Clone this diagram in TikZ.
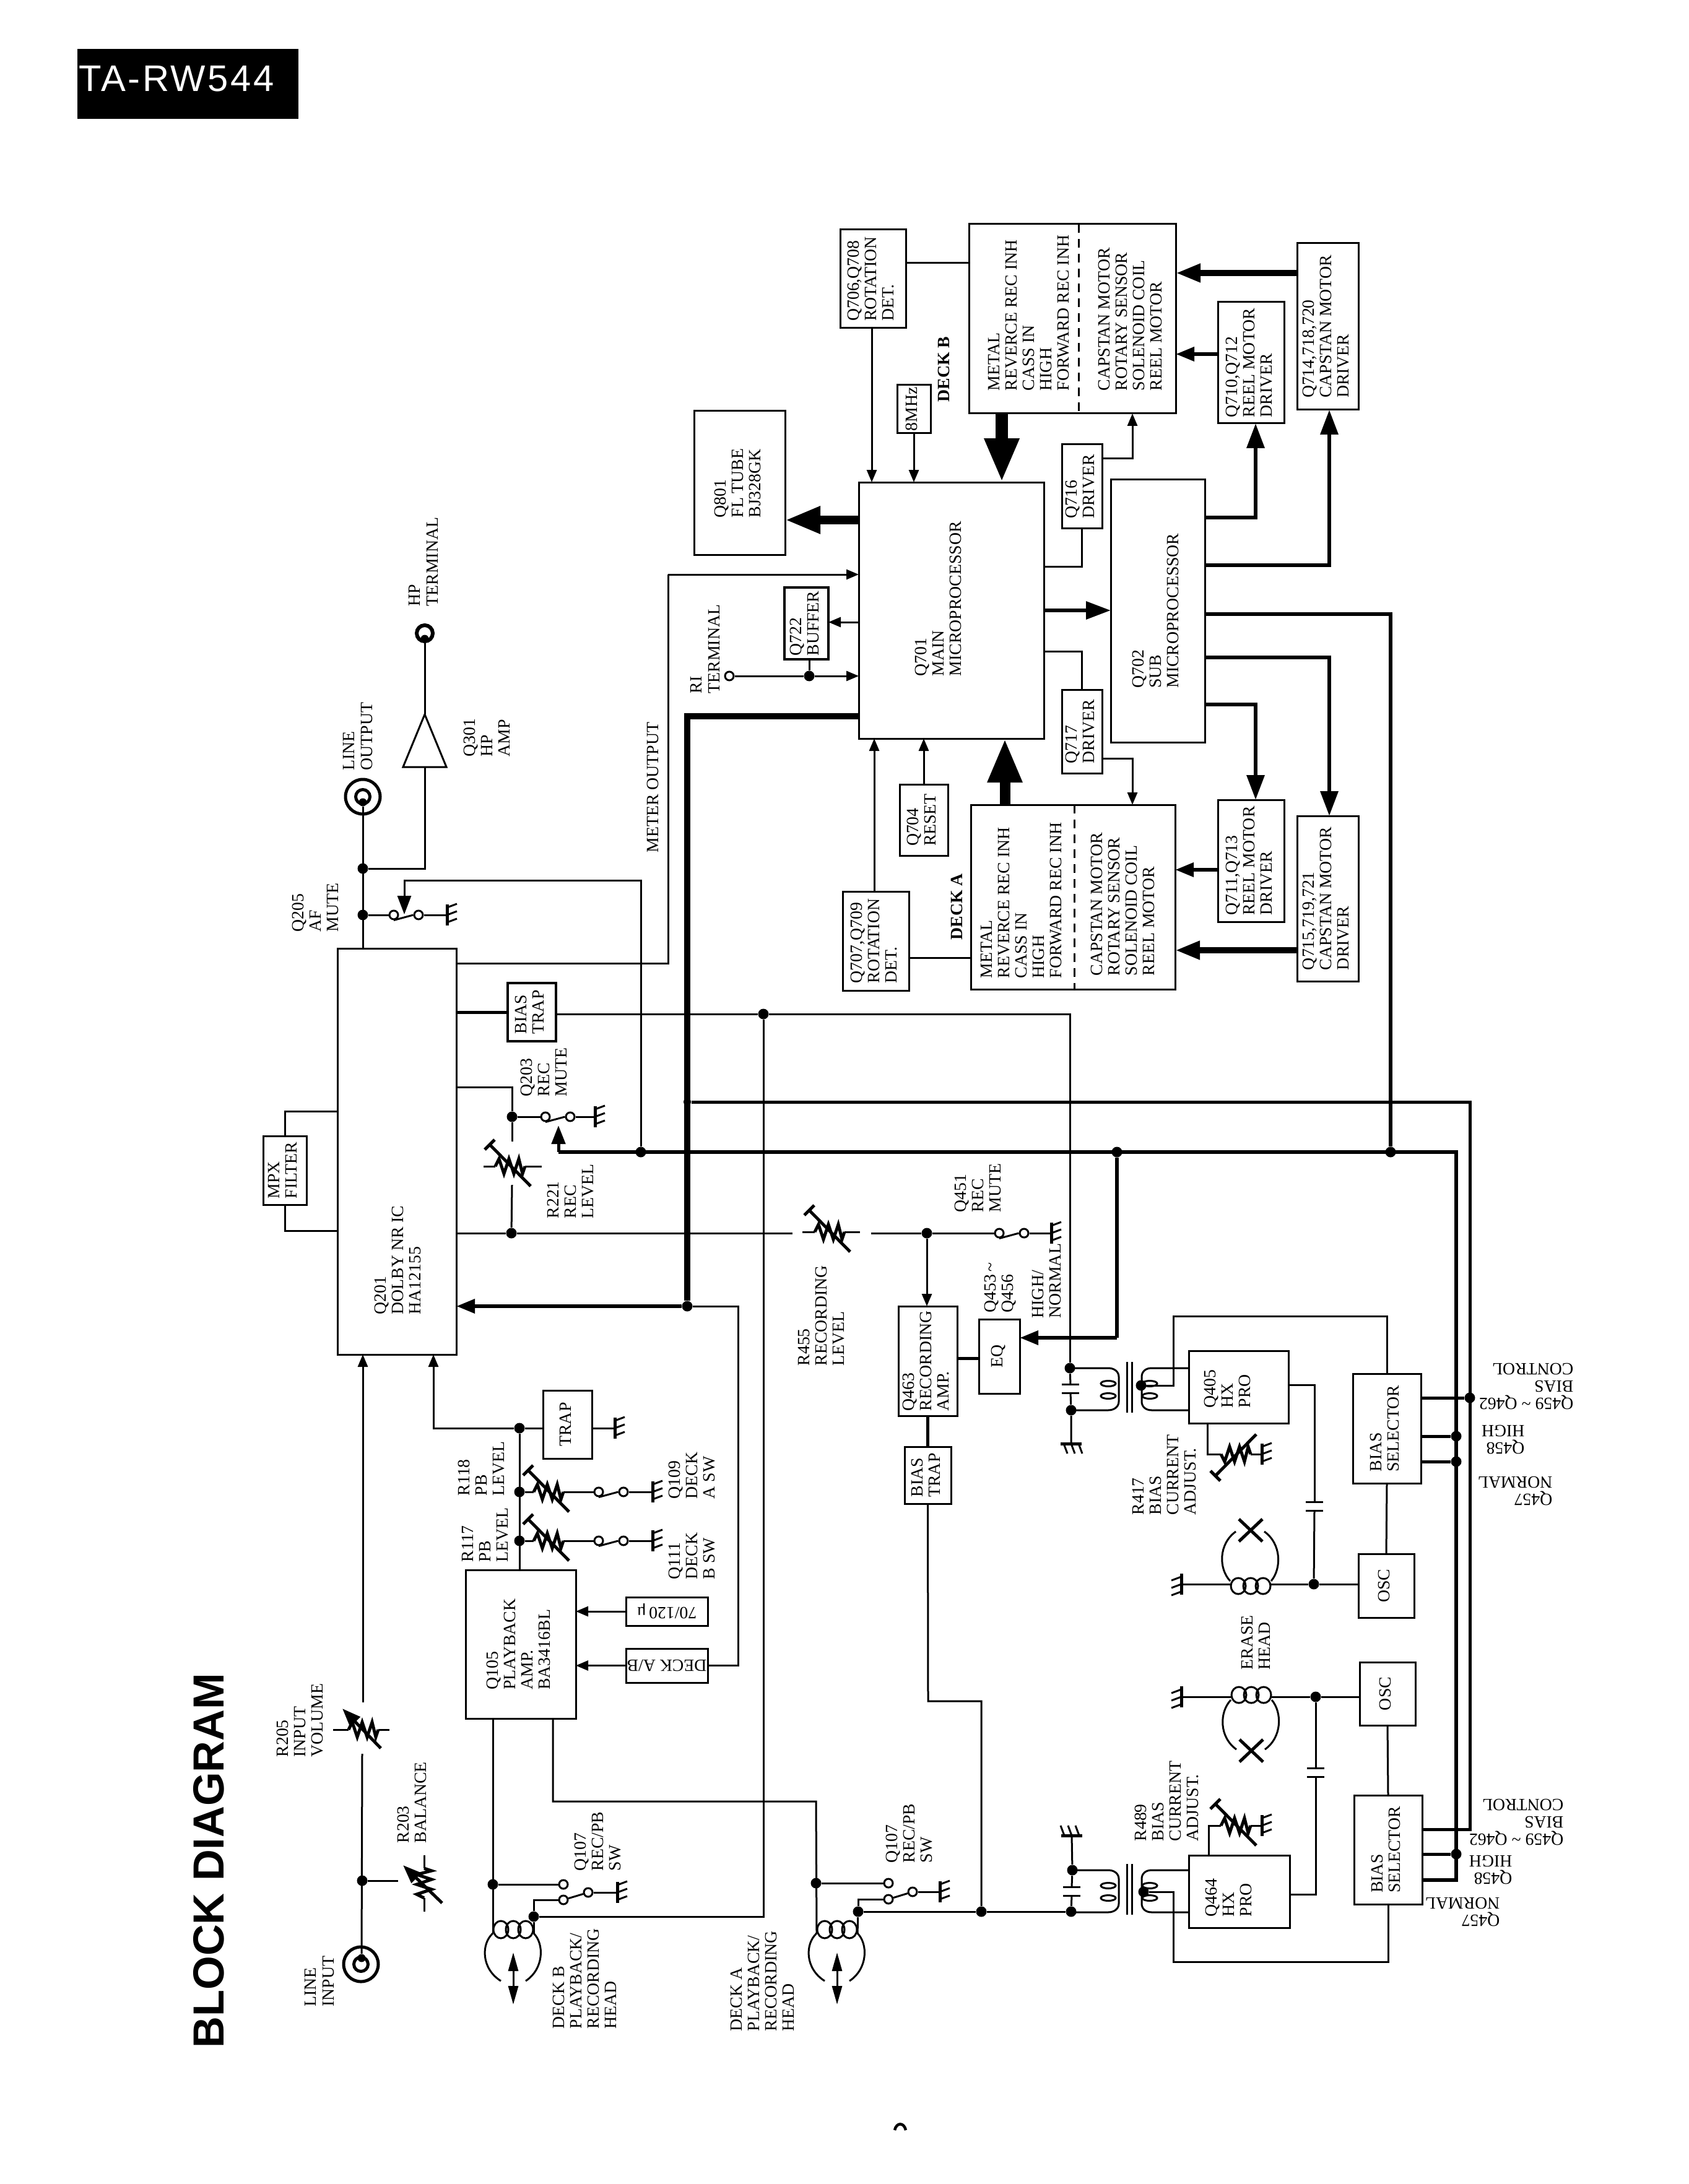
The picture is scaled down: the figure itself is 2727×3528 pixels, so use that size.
\documentclass[tikz,border=0pt]{standalone}
\usepackage{fontspec}
\usepackage{graphicx}
\setmainfont{Liberation Serif}
\newfontfamily\headfont{Liberation Sans}
\newfontfamily\modelfont[LetterSpace=6]{Liberation Sans}
\usetikzlibrary{arrows.meta}

\newcommand{\schfont}{\fontsize{7.9pt}{8pt}\selectfont}
\newcommand{\vtext}[1]{\rotatebox{90}{\begin{tabular}{@{}l@{}}#1\end{tabular}}}
\newcommand{\zigpath}{(-24,0) -- (-18,-12) -- (-10,12) -- (-2,-12) -- (6,12) -- (14,-12) -- (20,12) -- (24,0)}

\tikzset{
  wire/.style={line width=0.3mm},
  wirem/.style={line width=0.5mm},
  wiret/.style={line width=0.65mm},
  wireh/.style={line width=1mm},
  aS/.style={-{Triangle[length=2mm,width=1.6mm]}},
  aT/.style={-{Triangle[length=3mm,width=2.2mm]}},
  aM/.style={-{Triangle[length=4mm,width=2.8mm]}},
  aL/.style={-{Triangle[length=5.7mm,width=4.1mm]}},
  aH/.style={-{Triangle[length=7.1mm,width=5.2mm]}},
  blk/.style={draw,line width=0.3mm,inner sep=0pt,outer sep=0pt,font=\schfont},
  labbase/.style={inner sep=0pt,anchor=north west,align=left,font=\schfont},
  lab/.style={labbase,rotate=90},
  labu/.style={labbase,rotate=180},
  dot/.style={circle,fill=black,inner sep=0pt,minimum size=1.7mm},
  swc/.style={circle,draw,fill=white,line width=0.3mm,inner sep=0pt,minimum size=1.4mm},
  jack/.style={circle,draw,inner sep=0pt,line width=0.5mm},
  gnd/.pic={
    \coordinate (-c) at (0,0);
    \draw[wirem] (0,-17) -- (0,17);
    \draw[wire] (0,-12) -- (16,-18);
    \draw[wire] (0,0) -- (16,-6);
    \draw[wire] (0,12) -- (16,6);
  },
  swt/.pic={
    \node[swc] (-a) at (0,0) {};
    \node[swc] (-b) at (40,0) {};
    \draw[wire] (-a.south) -- (-b.west);
  },
  capv/.pic={
    \coordinate (-t) at (0,-7);
    \coordinate (-b) at (0,7);
    \draw[wire] (-14,-7) -- (14,-7);
    \draw[wire] (-14,7) -- (14,7);
  },
  zigonly/.pic={
    \coordinate (-l) at (-24,0);
    \coordinate (-r) at (24,0);
    \draw[wirem] \zigpath;
  },
  vrt/.pic={
    \coordinate (-l) at (-24,0);
    \coordinate (-r) at (24,0);
    \draw[wirem] \zigpath;
    \draw[wirem] (-33,-35) -- (33,32);
    \draw[wirem] (-41,-27) -- (-25,-43);
  },
  vra/.pic={
    \coordinate (-l) at (-24,0);
    \coordinate (-r) at (24,0);
    \draw[wirem] \zigpath;
    \draw[wirem,aT] (28,30) -- (-34,-34);
  },
  head/.pic={
    \coordinate (-l) at (-33,6);
    \coordinate (-r) at (33,6);
    \draw[wire] (-20,0) ellipse [x radius=1.2mm,y radius=1.4mm];
    \draw[wire] (0,0) ellipse [x radius=1.2mm,y radius=1.4mm];
    \draw[wire] (20,0) ellipse [x radius=1.2mm,y radius=1.4mm];
    \draw[wire] (-33,6) .. controls (-52,23) and (-52,63) .. (-20,83);
    \draw[wire] (33,6) .. controls (50,23) and (50,63) .. (20,83);
    \draw[wire,{Triangle[length=3mm,width=1.6mm]}-{Triangle[length=3mm,width=1.6mm]}] (0,37) -- (0,121);
  },
  erase/.pic={
    \coordinate (-l) at (-33,0);
    \coordinate (-r) at (33,0);
    \draw[wire] (-20,-3) ellipse [x radius=1.2mm,y radius=1.3mm];
    \draw[wire] (0,-3) ellipse [x radius=1.2mm,y radius=1.3mm];
    \draw[wire] (20,-3) ellipse [x radius=1.2mm,y radius=1.3mm];
    \draw[wire] (-33,5) .. controls (-52,25) and (-52,65) .. (-24,85);
    \draw[wire] (33,5) .. controls (50,25) and (50,65) .. (22,85);
    \draw[wirem] (-19,69) -- (19,105);
    \draw[wirem] (19,69) -- (-19,105);
  },
  xfmr/.pic={
    \coordinate (-a) at (192,0);
    \coordinate (-b) at (192,68);
    \draw[wire] (0,0) -- (62,0) .. controls (72,0) and (79,6) .. (79,14) -- (79,54) .. controls (79,62) and (72,68) .. (62,68) -- (0,68);
    \draw[wire] (62,25) ellipse [x radius=1.2mm,y radius=0.45mm];
    \draw[wire] (62,45) ellipse [x radius=1.2mm,y radius=0.45mm];
    \draw[wire] (92,-10) -- (92,72);
    \draw[wire] (100,-10) -- (100,72);
    \draw[wire] (-a) -- (132,0) .. controls (122,0) and (116,6) .. (116,14) -- (116,54) .. controls (116,62) and (122,68) .. (132,68) -- (-b);
    \draw[wire] (129,25) ellipse [x radius=1.2mm,y radius=0.45mm];
    \draw[wire] (129,45) ellipse [x radius=1.2mm,y radius=0.45mm];
  }
}

\begin{document}
\begin{tikzpicture}[x=0.1mm,y=-0.1mm]
\useasboundingbox (0,0) rectangle (2727,3528);

% Header
\node[fill=black,inner sep=0pt,minimum width=35.7mm,minimum height=11.3mm] (model) at (303.5,135.5) {};
\node[text=white,inner sep=0pt] (modeltxt) at (285,127) {\modelfont\fontsize{17pt}{17pt}\selectfont TA-RW544};
\node[rotate=90,anchor=north west,inner sep=0pt] (title) at (312,3309) {\headfont\bfseries\fontsize{20pt}{20pt}\selectfont BLOCK DIAGRAM};

% Microprocessor blocks
\node[blk,minimum width=14.7mm,minimum height=23.3mm] (q801) at (1194.5,780.5) {\vtext{Q801\\FL TUBE\\BJ328GK}};
\node[blk,minimum width=29.9mm,minimum height=41.4mm] (q701) at (1536.5,986) {};
\node[blk,minimum width=15.2mm,minimum height=42.5mm] (q702) at (1870,986.5) {\vtext{Q702\\SUB\\MICROPROCESSOR}};
\node[blk,minimum width=10.6mm,minimum height=15.9mm] (q706) at (1410,450.5) {\vtext{Q706,Q708\\ROTATION\\DET.}};
\node[blk,minimum width=33.4mm,minimum height=30.6mm] (deckb) at (1732,515) {};
\node[blk,minimum width=9.9mm,minimum height=26.9mm] (q714) at (2144.5,527.5) {\vtext{Q714,718,720\\CAPSTAN MOTOR\\DRIVER}};
\node[blk,minimum width=10.7mm,minimum height=19.6mm] (q710) at (2020.5,586) {\vtext{Q710,Q712\\REEL MOTOR\\DRIVER}};
\node[blk,minimum width=5.4mm,minimum height=7.8mm] (mhz) at (1476,661) {\vtext{8MHz}};
\node[blk,minimum width=6.5mm,minimum height=13.6mm] (q716) at (1747.5,786) {\vtext{Q716\\DRIVER}};
\node[blk,minimum width=6.5mm,minimum height=13.5mm] (q717) at (1747.5,1181.5) {\vtext{Q717\\DRIVER}};
\node[blk,line width=0.45mm,minimum width=7.1mm,minimum height=11.6mm] (q722) at (1302.5,1007) {\vtext{Q722\\BUFFER}};
\node[blk,minimum width=7.8mm,minimum height=11.5mm] (q704) at (1492,1324.5) {\vtext{Q704\\RESET}};
\node[blk,minimum width=10.7mm,minimum height=16mm] (q707) at (1414.5,1520) {\vtext{Q707,Q709\\ROTATION\\DET.}};
\node[blk,minimum width=33mm,minimum height=29.8mm] (decka) at (1733,1449) {};
\node[blk,minimum width=10.7mm,minimum height=19.7mm] (q711) at (2020.5,1390.5) {\vtext{Q711,Q713\\REEL MOTOR\\DRIVER}};
\node[blk,minimum width=9.9mm,minimum height=26.7mm] (q715) at (2144.5,1451.5) {\vtext{Q715,719,721\\CAPSTAN MOTOR\\DRIVER}};

% Audio blocks
\node[blk,minimum width=19.2mm,minimum height=65.6mm] (q201) at (641,1860) {};
\node[blk,minimum width=7mm,minimum height=11.1mm] (mpx) at (460,1890.5) {\vtext{MPX\\FILTER}};
\node[blk,line width=0.45mm,minimum width=7.8mm,minimum height=9.4mm] (btrapa) at (859,1635) {\vtext{BIAS\\TRAP}};
\node[blk,minimum width=7.9mm,minimum height=11mm] (trap) at (916.5,2301) {\vtext{TRAP}};
\node[blk,minimum width=17.8mm,minimum height=24mm] (q105) at (841,2656) {\vtext{Q105\\PLAYBACK\\AMP.\\BA3416BL}};
\node[blk,minimum width=13.2mm,minimum height=4.6mm] (eqsw) at (1077,2603) {\rotatebox{180}{70/120\,μ}};
\node[blk,minimum width=13.2mm,minimum height=5.5mm] (deckab) at (1077,2690.5) {\rotatebox{180}{DECK A/B}};
\node[blk,minimum width=9.5mm,minimum height=17.7mm] (q463) at (1498.5,2198.5) {\vtext{Q463\\RECORDING\\AMP.}};
\node[blk,minimum width=6.6mm,minimum height=12mm] (eq) at (1614,2191) {\vtext{EQ}};
\node[blk,minimum width=7.5mm,minimum height=9.2mm] (btrapb) at (1498.5,2383) {\vtext{BIAS\\TRAP}};
\node[blk,minimum width=16.1mm,minimum height=11.7mm] (q405) at (2000.5,2240.5) {};
\node[blk,minimum width=11mm,minimum height=17.7mm] (sela) at (2240,2307.5) {\vtext{BIAS\\SELECTOR}};
\node[blk,minimum width=9mm,minimum height=10.3mm] (osca) at (2239,2561.5) {\vtext{OSC}};
\node[blk,minimum width=9mm,minimum height=10.2mm] (oscb) at (2241,2736) {\vtext{OSC}};
\node[blk,minimum width=11mm,minimum height=17.6mm] (selb) at (2242,2988) {\vtext{BIAS\\SELECTOR}};
\node[blk,minimum width=16.3mm,minimum height=11.7mm] (q464) at (2001.5,3055.5) {};

% Text inside blocks
\node[lab] (tq701) at (1477,1093) {Q701\\MAIN\\MICROPROCESSOR};
\node[lab] (tdeckbl) at (1595,632) {METAL\\REVERCE REC INH\\CASS IN\\HIGH\\FORWARD REC INH};
\node[lab] (tdeckbr) at (1773,632) {CAPSTAN MOTOR\\ROTARY SENSOR\\SOLENOID COIL\\REEL MOTOR};
\node[lab] (tdeckal) at (1583,1581) {METAL\\REVERCE REC INH\\CASS IN\\HIGH\\FORWARD REC INH};
\node[lab] (tdeckar) at (1761,1577) {CAPSTAN MOTOR\\ROTARY SENSOR\\SOLENOID COIL\\REEL MOTOR};
\node[lab] (tq201) at (604,2124) {Q201\\DOLBY NR IC\\HA12155};
\node[lab] (tq405) at (1944,2275) {Q405\\HX\\PRO};
\node[lab] (tq464) at (1946,3097) {Q464\\HX\\PRO};

% Labels
\node[lab] (thp) at (660,980) {HP\\TERMINAL};
\node[lab] (tlo) at (554,1245) {LINE\\OUTPUT};
\node[lab] (tq301) at (748,1223) {Q301\\HP\\AMP};
\node[lab] (tmeter) at (1044,1378) {METER OUTPUT};
\node[lab] (tri) at (1115,1121) {RI\\TERMINAL};
\node[lab] (tq205) at (471,1506) {Q205\\AF\\MUTE};
\node[lab] (tdb) at (1514,650) {\bfseries DECK B};
\node[lab] (tda) at (1535,1519) {\bfseries DECK A};
\node[lab] (tr118) at (739,2417) {R118\\PB\\ LEVEL};
\node[lab] (tr117) at (745,2524) {R117\\PB\\LEVEL};
\node[lab] (tq109) at (1079,2422) {Q109\\DECK\\A SW};
\node[lab] (tq111) at (1079,2552) {Q111\\DECK\\B SW};
\node[lab] (tq203) at (840,1772) {Q203\\REC\\MUTE};
\node[lab] (tr221) at (883,1969) {R221\\REC\\LEVEL};
\node[lab] (tr455) at (1288,2207) {R455\\RECORDING\\LEVEL};
\node[lab] (tq451) at (1541,1959) {Q451\\REC\\MUTE};
\node[lab] (tq453) at (1589,2121) {Q453\,\textasciitilde\\Q456};
\node[lab] (thn) at (1666,2130) {HIGH/\\NORMAL};
\node[lab] (tr417) at (1828,2448) {R417\\BIAS\\CURRENT\\ADJUST.};
\node[lab] (terase) at (2004,2698) {ERASE\\HEAD};
\node[lab] (tr489) at (1832,2975) {R489\\BIAS\\CURRENT\\ADJUST.};
\node[lab] (tq107a) at (1430,3010) {Q107\\REC/PB\\SW};
\node[lab] (tq107b) at (927,3023) {Q107\\REC/PB\\SW};
\node[lab] (theadb) at (892,3278) {DECK B\\PLAYBACK/\\RECORDING\\HEAD};
\node[lab] (theada) at (1179,3282) {DECK A\\PLAYBACK/\\RECORDING\\HEAD};
\node[lab] (tr205) at (446,2839) {R205\\INPUT\\VOLUME};
\node[lab] (tr203) at (641,2978) {R203\\BALANCE};
\node[lab] (tli) at (492,3242) {LINE\\INPUT};
\node[labu] (tctla) at (2542,2278) {Q459 \textasciitilde{} Q462\\BIAS\\CONTROL};
\node[labu] (thia) at (2463,2350) {Q458\\HIGH};
\node[labu] (tnoa) at (2508,2433) {Q457\\NORMAL};
\node[labu] (tctlb) at (2526,2982) {Q459 \textasciitilde{} Q462\\BIAS\\CONTROL};
\node[labu] (thib) at (2443,3045) {Q458\\HIGH};
\node[labu] (tnob) at (2423,3113) {Q457\\NORMAL};

% Jacks and terminals
\node[jack,minimum size=5.6mm] (jout) at (586,1287) {};
\node[jack,minimum size=2.3mm] (jouti) at (586,1287) {};
\node[dot,minimum size=1.3mm] (joutd) at (586,1296) {};
\node[jack,minimum size=2.6mm,line width=0.6mm] (jhp) at (686,1023) {};
\node[dot,minimum size=1.3mm] (jhpd) at (686,1032) {};
\node[jack,minimum size=5.6mm] (jin) at (583,3173) {};
\node[jack,minimum size=2.3mm] (jini) at (583,3173) {};
\node[dot,minimum size=1.3mm] (jind) at (584,3163) {};
\node[swc] (ri) at (1178,1092) {};

% Junction dots
\node[dot] (dlo) at (586,1403) {};
\node[dot] (daf) at (586,1478) {};
\node[dot] (dmute) at (827,1804) {};
\node[dot] (drec) at (826,1992) {};
\node[dot] (dctl) at (1035,1861) {};
\node[dot,minimum size=1.2mm] (dhi) at (1110,1780) {};
\node[dot] (dthick) at (1110,2110) {};
\node[dot] (dbias) at (1233,1638) {};
\node[dot] (dri) at (1307,1092) {};
\node[dot] (dpb) at (839,2307) {};
\node[dot] (dra) at (839,2410) {};
\node[dot] (drb) at (839,2489) {};
\node[dot] (dq451) at (1497,1992) {};
\node[dot] (deq) at (1804,1861) {};
\node[dot] (dsub) at (2246,1861) {};
\node[dot] (din) at (585,3038) {};
\node[dot] (dhbl) at (796,3044) {};
\node[dot] (dhbr) at (862,3096) {};
\node[dot] (dhal) at (1318,3042) {};
\node[dot] (dhar) at (1386,3088) {};
\node[dot] (djoin) at (1585,3088) {};
\node[dot] (dpa) at (1728,2210) {};
\node[dot] (dpb2) at (1730,2278) {};
\node[dot] (dsa) at (1843,2238) {};
\node[dot] (dea) at (2122,2559) {};
\node[dot] (dqa) at (1732,3021) {};
\node[dot] (dqb) at (1730,3088) {};
\node[dot] (dsb) at (1847,3056) {};
\node[dot] (deb) at (2125,2741) {};
\node[dot] (dsla) at (2374,2258) {};
\node[dot] (dslb) at (2352,2320) {};
\node[dot] (dslc) at (2352,2361) {};
\node[dot] (dsld) at (2352,2995) {};

% Switches
\pic (s205) at (636,1478) {swt};
\pic (s203) at (881,1804) {swt};
\pic (s451) at (1614,1992) {swt};
\pic (s109) at (967,2410) {swt};
\pic (s111) at (967,2489) {swt};
\node[swc] (sba) at (910,3044) {};
\node[swc] (sbb) at (910,3069) {};
\node[swc] (sbc) at (950,3057) {};
\node[swc] (saa) at (1435,3042) {};
\node[swc] (sab) at (1435,3068) {};
\node[swc] (sac) at (1474,3056) {};
\draw[wire] (sbb) -- (sbc);
\draw[wire] (sab) -- (sac);

% Grounds
\pic (g205) at (722,1478) {gnd};
\pic (g203) at (961,1804) {gnd};
\pic (g451) at (1698,1992) {gnd};
\pic (gtrap) at (993,2307) {gnd};
\pic (g109) at (1054,2410) {gnd};
\pic (g111) at (1054,2489) {gnd};
\pic (gb) at (997,3057) {gnd};
\pic (ga) at (1518,3056) {gnd};
\pic[rotate=-90] (g405) at (1730,2332) {gnd};
\pic[rotate=90] (g464) at (1731,2965) {gnd};
\pic (g417) at (2038,2349) {gnd};
\pic (g489) at (2038,2949) {gnd};
\pic[rotate=180] (gea) at (1908,2559) {gnd};
\pic[rotate=180] (geb) at (1908,2741) {gnd};

% Variable resistors
\pic (r118) at (886,2410) {vrt};
\pic (r117) at (886,2489) {vrt};
\pic (r221) at (824,1884) {vrt};
\pic (r455) at (1340,1990) {vrt};
\pic[yscale=-1] (r417) at (1996,2349) {vrt};
\pic (r489) at (1996,2949) {vrt};
\pic (r205) at (587,2794) {vra};
\pic[rotate=90] (r203) at (685,3042) {zigonly};
\coordinate (r203t) at (651,3013);
\coordinate (r203e) at (714,3074);
\draw[wirem,aT] (r203e) -- (r203t);

% Heads and coils
\pic (hb) at (829,3117) {head};
\pic (ha) at (1352,3117) {head};
\pic (xa) at (1728,2210) {xfmr};
\pic (xb) at (1728,3021) {xfmr};
\pic[yscale=-1] (ea) at (2020,2559) {erase};
\pic (eb) at (2021,2741) {erase};
\pic (cxa) at (1729,2243) {capv};
\pic (cxb) at (1731,3055) {capv};
\pic (coa) at (2123,2433) {capv};
\pic (cob) at (2125,2863) {capv};

% HP amp
\coordinate (ampb) at (686,1239);
\coordinate (ampt) at (686,1154);
\draw[wire] (651,1239) -- (721,1239) -- (ampt) -- cycle;

% Output side wires
\draw[wire] (joutd) -- (q201.north -| joutd);
\draw[wire] (dlo) -| (ampb);
\draw[wire] (ampt) -- (jhpd);
\draw[wire] (daf) -- (s205-a);
\draw[wire] (s205-b) -- (g205-c);
\coordinate (ta205) at (653,1477);
\draw[wire,aT] (dctl) |- (653,1422) -- (ta205);
\draw[wire] (q201.east |- 0,1556) -- (1079,1556) -- (1079,928);
\draw[wire,aS] (1079,928) -- (q701.west |- 0,928);
\draw[wire] (q201.west |- 0,1795) -| (mpx.north);
\draw[wire] (mpx.south) |- (q201.west |- 0,1988);

% Bias trap line
\draw[wirem] (q201.east |- btrapa.east) -- (btrapa.west);
\draw[wire] (btrapa.east |- dbias) -- (dbias) -- (1728,1638) -- (dpa);
\draw[wire] (dbias) -- (1233,3096) -- (dhbr);

% Record mute and level
\draw[wire] (q201.east |- 0,1756) -| (dmute);
\draw[wire] (dmute) -- (827,1844);
\draw[wire] (827,1914) -- (drec);
\draw[wire] (r221-l) -- ++(-19,0);
\draw[wire] (r221-r) -- ++(27,0);
\draw[wire] (dmute) -- (s203-a);
\draw[wire] (s203-b) -- (g203-c);
\draw[wire] (q201.east |- drec) -- (drec) -- (1280,1992);
\draw[wire] (r455-l) -- ++(-20,0);
\draw[wire] (r455-r) -- ++(25,0);
\draw[wire] (1407,1992) -- (dq451) -- (s451-a);
\draw[wire] (s451-b) -- (g451-c);
\draw[wire,aS] (dq451) -- (dq451 |- q463.north);
\draw[wirem] (q463.east |- 0,2194) -- (eq.west |- 0,2194);
\draw[wirem] (q463.south) -- (btrapb.north);
\draw[wire] (btrapb.south) -- (1499,2748) -| (djoin);

% Control buses
\coordinate (ctll) at (902,1861);
\coordinate (ta203) at (902,1818);
\draw[wiret] (ctll) -- (2352,1861) -- (2352,3037) -- (selb.east |- 0,3037);
\draw[wirem,aT] (ctll) -- (ta203);
\draw[wirem] (dhi) -- (2374,1780) -- (2374,2955) -- (selb.east |- 0,2955);
\draw[wirem] (sela.east |- dsla) -- (dsla);
\draw[wirem] (sela.east |- dslb) -- (dslb);
\draw[wirem] (sela.east |- dslc) -- (dslc);
\draw[wirem] (selb.east |- dsld) -- (dsld);
\draw[wireh] (q701.west |- 0,1157) -- (1110,1157) -- (dthick);
\draw[wiret,aT] (dthick) -- (q201.east |- dthick);
\draw[wire] (dthick) -- (1192,2110) -- (1192,2690) -- (deckab.east |- 0,2690);
\draw[wiret] (q702.east |- 0,992) -- (2246,992) -- (dsub);
\draw[wiret] (deq) -- (1804,2161);
\draw[wiret,aT] (1804,2161) -- (eq.east |- 0,2161);

% Playback chain
\draw[wire] (dpb) -- (q105.north -| dpb);
\draw[wire] (dpb) -- (trap.west |- dpb);
\draw[wire] (trap.east |- dpb) -- (gtrap-c);
\draw[wire,aS] (dpb) -- (700,2307) -- (700,0 |- q201.south);
\draw[wire] (dra) -- (r118-l);
\draw[wire] (r118-r) -- (s109-a);
\draw[wire] (s109-b) -- (g109-c);
\draw[wire] (drb) -- (r117-l);
\draw[wire] (r117-r) -- (s111-a);
\draw[wire] (s111-b) -- (g111-c);
\draw[wire,aS] (eqsw.west) -- (q105.east |- eqsw.west);
\draw[wire,aS] (deckab.west) -- (q105.east |- deckab.west);

% Line input
\draw[wire] (jind) -- (585,2833);
\draw[wire,aS] (586,2750) -- (586,0 |- q201.south);
\draw[wire] (r205-l) -- ++(-25,0);
\draw[wire] (r205-r) -- ++(18,0);
\draw[wire] (din) -- (643,3038);
\draw[wire] (r203-r) -- ++(0,-21);
\draw[wire] (r203-l) -- ++(0,22);

% Deck heads
\draw[wire] (q105.south -| dhbl) -- (hb-l);
\draw[wire] (dhbl) -- (sba);
\draw[wire] (dhbr) -- (hb-r);
\draw[wire] (dhbr) |- (sbb);
\draw[wire] (sbc) -- (gb-c);
\draw[wire] (893,0 |- q105.south) -- (893,2910) -- (1318,2910) -- (ha-l);
\draw[wire] (dhal) -- (saa);
\draw[wire] (dhar) -- (ha-r);
\draw[wire] (dhar) |- (sab);
\draw[wire] (sac) -- (ga-c);
\draw[wire] (dhar) -- (djoin) -- (dqb);

% Bias section, upper
\draw[wire] (dpa) -- (cxa-t);
\draw[wire] (cxa-b) -- (dpb2) -- (g405-c);
\draw[wire] (xa-a) -- (q405.west |- xa-a);
\draw[wire] (xa-b) -- (q405.west |- xa-b);
\draw[wire] (dsa) -- (1895,2238) -- (1895,2126) -- (2240,2126) -- (sela.north);
\draw[wire] (q405.east |- 0,2237) -- (2123,2237) -- (coa-t);
\draw[wire] (coa-b) -- (dea);
\draw[wire] (1950,0 |- q405.south) -- (1950,2349) -- (r417-l);
\draw[wire] (r417-r) -- (g417-c);
\draw[wire] (sela.south) -- (osca.north);
\draw[wire] (gea-c) -- (ea-l);
\draw[wire] (ea-r) -- (dea) -- (osca.west |- dea);

% Bias section, lower
\draw[wire] (g464-c) -- (dqa) -- (cxb-t);
\draw[wire] (cxb-b) -- (dqb);
\draw[wire] (dsb) -- (1895,3056) -- (1895,3169) -- (2242,3169) -- (selb.south);
\draw[wire] (q464.east |- 0,3060) -- (2125,3060) -- (cob-b);
\draw[wire] (cob-t) -- (deb);
\draw[wire] (1952,0 |- q464.north) -- (1952,2949) -- (r489-l);
\draw[wire] (r489-r) -- (g489-c);
\draw[wire] (oscb.south) -- (selb.north);
\draw[wire] (geb-c) -- (eb-l);
\draw[wire] (eb-r) -- (deb) -- (oscb.west |- deb);

% Deck dividers
\draw[wire,dash pattern=on 1.4mm off 1mm] (1742,0 |- deckb.north) -- (1742,0 |- deckb.south);
\draw[wire,dash pattern=on 1.4mm off 1mm] (1735,0 |- decka.north) -- (1735,0 |- decka.south);

% Microprocessor wires
\draw[wire,aS] (1408,0 |- q706.south) -- (1408,0 |- q701.north);
\draw[wire] (q706.east |- 0,425) -- (deckb.west |- 0,425);
\draw[wire,aS] (mhz.south) -- (mhz.south |- q701.north);
\draw[line width=2mm,aH] (1618,0 |- deckb.south) -- (1618,0 |- q701.north);
\draw[line width=1.7mm,aH] (1623,0 |- decka.north) -- (1623,0 |- q701.south);
\draw[line width=1.4mm,aL] (q701.west |- 0,840) -- (q801.east |- 0,840);
\draw[wire,aS] (q716.east |- 0,741) -| (1829,0 |- deckb.south);
\draw[wire] (q716.south) |- (q701.east |- 0,915);
\draw[wire] (q717.north) |- (q701.east |- 0,1052);
\draw[wire,aS] (q717.east |- 0,1225) -| (1829,0 |- decka.north);
\draw[wiret,aM] (q701.east |- 0,986) -- (q702.west |- 0,986);
\draw[wiret,aM] (q702.east |- 0,836) -| (2028,0 |- q710.south);
\draw[wiret,aM] (q702.east |- 0,913) -| (2147,0 |- q714.south);
\draw[wiret,aM] (q702.east |- 0,1062) -| (2147,0 |- q715.north);
\draw[wiret,aM] (q702.east |- 0,1138) -| (2028,0 |- q711.north);
\draw[wireh,aM] (q714.west |- 0,441) -- (deckb.east |- 0,441);
\draw[wiret,aT] (q710.west |- 0,572) -- (deckb.east |- 0,572);
\draw[wiret,aT] (q711.west |- 0,1405) -- (decka.east |- 0,1405);
\draw[wireh,aM] (q715.west |- 0,1535) -- (decka.east |- 0,1535);
\draw[wire,aS] (q704.north) -- (q704.north |- q701.south);
\draw[wire,aS] (1412,0 |- q707.north) -- (1412,0 |- q701.south);
\draw[wire] (q707.east |- 0,1547) -- (decka.west |- 0,1547);
\draw[wire,aS] (q701.west |- 0,1005) -- (q722.east |- 0,1005);
\draw[wire] (ri) -- (dri);
\draw[wire,aS] (dri) -- (q701.west |- dri);
\draw[wire] (q722.south -| dri) -- (dri);

% Page edge mark
\draw[line width=0.45mm] (1445,3441) .. controls (1448,3428) and (1460,3428) .. (1463,3441);

\end{tikzpicture}
\end{document}
